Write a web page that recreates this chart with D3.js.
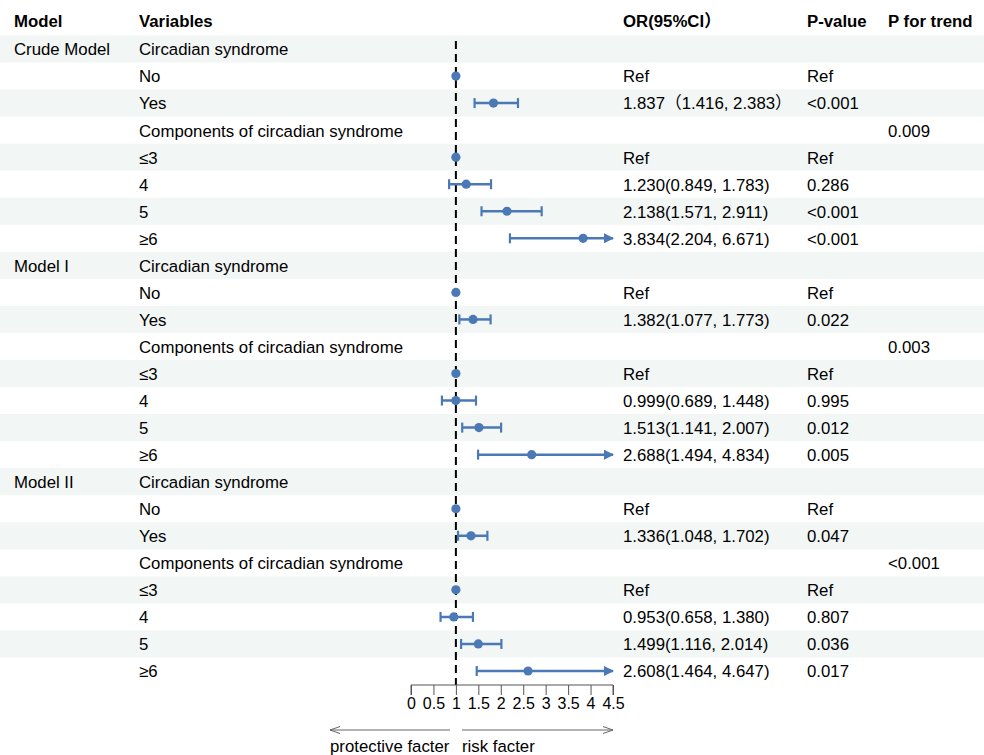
<!DOCTYPE html>
<html><head><meta charset="utf-8">
<script src="https://cdn.jsdelivr.net/npm/d3@7/dist/d3.min.js"></script>
<style>body{margin:0;background:#fff}svg{display:block}text{font-family:"Liberation Sans",Arial,"Noto Sans CJK SC",sans-serif}</style>
</head><body><svg id="c" width="984" height="755"></svg>
<script>
const headers = ["Model","Variables","OR(95%CI）","P-value","P for trend"];
const models = ["Crude Model","","","","","","","","Model I","","","","","","","","Model II","","","","","","",""];
const variables = ["Circadian syndrome","No","Yes","Components of circadian syndrome","≤3","4","5","≥6",
  "Circadian syndrome","No","Yes","Components of circadian syndrome","≤3","4","5","≥6",
  "Circadian syndrome","No","Yes","Components of circadian syndrome","≤3","4","5","≥6"];
const orValues = [null,1,1.837,null,1,1.230,2.138,3.834, null,1,1.382,null,1,0.999,1.513,2.688, null,1,1.336,null,1,0.953,1.499,2.608];
const lowerCI = [null,null,1.416,null,null,0.849,1.571,2.204, null,null,1.077,null,null,0.689,1.141,1.494, null,null,1.048,null,null,0.658,1.116,1.464];
const upperCI = [null,null,2.383,null,null,1.783,2.911,6.671, null,null,1.773,null,null,1.448,2.007,4.834, null,null,1.702,null,null,1.380,2.014,4.647];
const orText = ["","Ref","1.837（1.416, 2.383）","","Ref","1.230(0.849, 1.783)","2.138(1.571, 2.911)","3.834(2.204, 6.671)",
  "","Ref","1.382(1.077, 1.773)","","Ref","0.999(0.689, 1.448)","1.513(1.141, 2.007)","2.688(1.494, 4.834)",
  "","Ref","1.336(1.048, 1.702)","","Ref","0.953(0.658, 1.380)","1.499(1.116, 2.014)","2.608(1.464, 4.647)"];
const pValues = ["","Ref","<0.001","","Ref","0.286","<0.001","<0.001",
  "","Ref","0.022","","Ref","0.995","0.012","0.005",
  "","Ref","0.047","","Ref","0.807","0.036","0.017"];
const pTrend = ["","","","0.009","","","","", "","","","0.003","","","","", "","","","<0.001","","","",""];
const xTicks = [0,0.5,1,1.5,2,2.5,3,3.5,4,4.5];

const svg = d3.select("#c");
const n = variables.length;
const x = d3.scaleLinear().domain([0,4.5]).range([411,613]);
const y = d3.scaleLinear().domain([0,n-1]).range([49,671]);
const rowH = y(1)-y(0);
const colX = [14,139,623,807,888];
const fs = "16.8px";
const blue = "#4a79b6";

// bands
svg.append("g").selectAll("rect").data(d3.range(n).filter(i=>i%2===0)).join("rect")
  .attr("x",0).attr("width",984).attr("y",i=>y(i)-rowH/2).attr("height",rowH).attr("fill","#f2f6f5");

// headers
svg.append("g").selectAll("text").data(headers).join("text")
  .attr("x",(d,i)=>colX[i]).attr("y",21).attr("dy","0.35em")
  .attr("font-size",fs).attr("font-weight","bold").text(d=>d);

// text columns
const cols = [models, variables, orText, pValues, pTrend];
cols.forEach((arr,ci)=>{
  svg.append("g").selectAll("text").data(arr).join("text")
    .attr("x",colX[ci]).attr("y",(d,i)=>y(i)+0.5).attr("dy","0.35em")
    .attr("font-size",fs).text(d=>d);
});

// reference line
svg.append("line").attr("x1",x(1)).attr("x2",x(1)).attr("y1",y(0)-8).attr("y2",685)
  .attr("stroke","#000").attr("stroke-width",2).attr("stroke-dasharray","8,5");

// arrow marker
const defs = svg.append("defs");
defs.append("marker").attr("id","ah").attr("viewBox","0 0 10 10").attr("refX",9).attr("refY",5)
  .attr("markerWidth",4).attr("markerHeight",4).attr("markerUnits","strokeWidth").attr("orient","auto")
  .append("path").attr("d","M0,0L10,5L0,10z").attr("fill",blue);
defs.append("marker").attr("id","gh").attr("viewBox","0 0 10 10").attr("refX",10).attr("refY",5)
  .attr("markerWidth",10).attr("markerHeight",10).attr("markerUnits","userSpaceOnUse").attr("orient","auto")
  .append("path").attr("d","M0,1.5L10,5L0,8.5").attr("fill","none").attr("stroke","#666").attr("stroke-width",1);

const idx = d3.range(n);
const ci = idx.filter(i=>lowerCI[i]!=null);
const xMax = x.domain()[1];
const g = svg.append("g");
g.selectAll("line.ci").data(ci).join("line").attr("class","ci")
  .attr("x1",i=>x(lowerCI[i])).attr("x2",i=>x(Math.min(upperCI[i],xMax)))
  .attr("y1",i=>y(i)).attr("y2",i=>y(i)).attr("stroke",blue).attr("stroke-width",2.5)
  .attr("marker-end",i=>upperCI[i]>xMax?"url(#ah)":null);
g.selectAll("line.lc").data(ci).join("line").attr("class","lc")
  .attr("x1",i=>x(lowerCI[i])).attr("x2",i=>x(lowerCI[i]))
  .attr("y1",i=>y(i)-5).attr("y2",i=>y(i)+5).attr("stroke",blue).attr("stroke-width",2.2);
g.selectAll("line.uc").data(ci.filter(i=>upperCI[i]<=xMax)).join("line").attr("class","uc")
  .attr("x1",i=>x(upperCI[i])).attr("x2",i=>x(upperCI[i]))
  .attr("y1",i=>y(i)-5).attr("y2",i=>y(i)+5).attr("stroke",blue).attr("stroke-width",2.2);
g.selectAll("circle").data(idx.filter(i=>orValues[i]!=null)).join("circle")
  .attr("cx",i=>x(orValues[i])).attr("cy",i=>y(i)).attr("r",4.6).attr("fill",blue);

// axis
const ax = svg.append("g").attr("transform","translate(0,685)")
  .call(d3.axisBottom(x).tickValues(xTicks).tickFormat(d3.format("")).tickSize(10).tickPadding(3));
ax.select(".domain").attr("stroke","#555").attr("d",`M${x(0)},10V0H${x(4.5)}V10`);
ax.selectAll(".tick line").attr("stroke","#555");
ax.selectAll("text").attr("font-size","16px").attr("fill","#000").attr("font-family","Liberation Sans, Arial, sans-serif");

// direction arrows
svg.append("line").attr("x1",450).attr("x2",330).attr("y1",730).attr("y2",730)
  .attr("stroke","#666").attr("stroke-width",1).attr("marker-end","url(#gh)");
svg.append("line").attr("x1",462).attr("x2",613).attr("y1",730).attr("y2",730)
  .attr("stroke","#666").attr("stroke-width",1).attr("marker-end","url(#gh)");
svg.append("text").attr("x",330).attr("y",746).attr("dy","0.35em").attr("font-size",fs).text("protective facter");
svg.append("text").attr("x",462).attr("y",746).attr("dy","0.35em").attr("font-size",fs).text("risk facter");
</script></body></html>
